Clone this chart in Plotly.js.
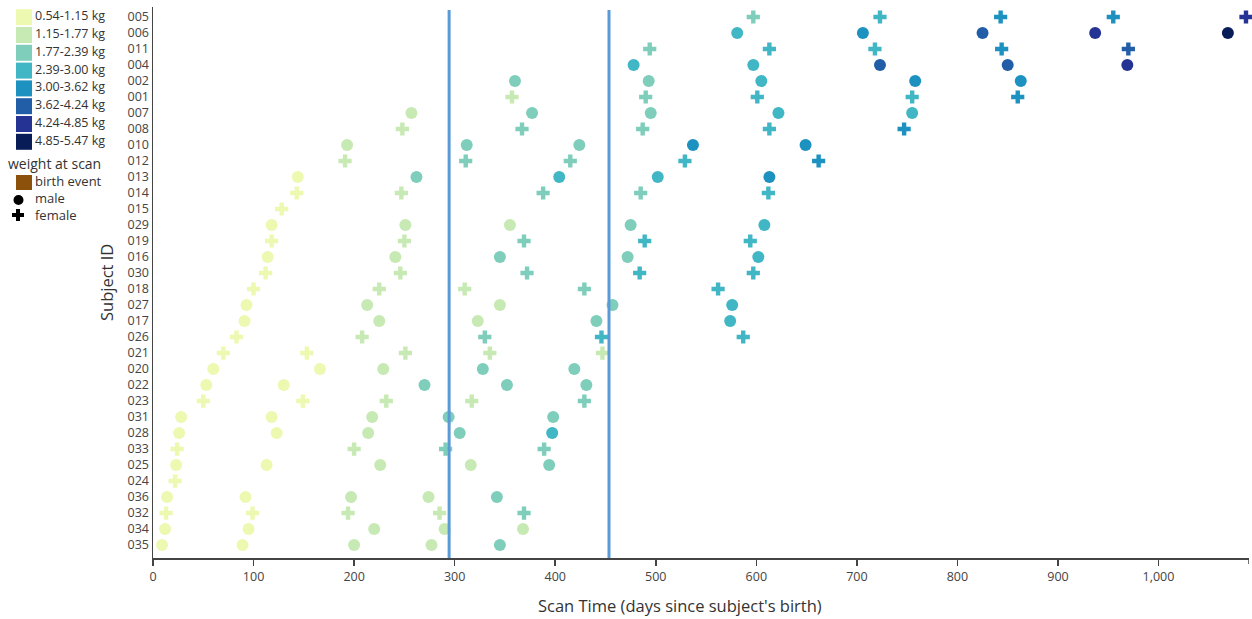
<!DOCTYPE html>
<html><head><meta charset="utf-8">
<script src="https://cdn.plot.ly/plotly-3.0.1.min.js"></script>
<style>html,body{margin:0;padding:0;background:#fff}#chart{width:1252px;height:619px}</style>
</head><body><div id="chart"></div>
<script>
// ---------- data ----------
const subjects = ['005','006','011','004','002','001','007','008','010','012','013','014','015','029','019','016','030','018','027','017','026','021','020','022','023','031','028','033','025','024','036','032','034','035'];
const sexes    = ['F','M','F','M','M','F','M','F','M','F','M','F','F','M','F','M','F','F','M','M','F','F','M','M','F','M','M','F','M','F','M','F','M','M'];
const scanDays = [
  [597, 723, 843, 955, 1087],
  [581, 706, 825, 937, 1069],
  [494, 613, 718, 844, 970],
  [478, 597, 723, 850, 969],
  [360, 493, 605, 758, 863],
  [357, 490, 601, 755, 860],
  [257, 377, 495, 622, 755],
  [248, 367, 487, 613, 747],
  [193, 312, 424, 537, 649],
  [191, 311, 415, 529, 662],
  [144, 262, 404, 502, 613],
  [143, 247, 388, 485, 612],
  [128],
  [118, 251, 355, 475, 608],
  [118, 250, 369, 489, 594],
  [114, 241, 345, 472, 602],
  [112, 246, 372, 484, 597],
  [100, 225, 310, 429, 562],
  [93, 213, 345, 457, 576],
  [91, 225, 323, 441, 574],
  [83, 208, 330, 446, 587],
  [70, 153, 251, 335, 447],
  [60, 166, 229, 328, 419],
  [53, 130, 270, 352, 431],
  [50, 149, 232, 317, 429],
  [28, 118, 218, 294, 398],
  [26, 123, 214, 305, 397],
  [24, 200, 291, 389],
  [23, 113, 226, 316, 394],
  [22],
  [14, 92, 197, 274, 342],
  [13, 99, 194, 285, 369],
  [12, 95, 220, 290, 368],
  [9, 89, 200, 277, 345]
];
// weight-at-scan bin index (0..7) for each scan
const weightBins = [
  [2,3,4,4,6],
  [3,4,5,6,7],
  [2,3,3,4,5],
  [3,3,5,5,6],
  [2,2,3,4,4],
  [1,2,3,3,4],
  [1,2,2,3,3],
  [1,2,2,3,4],
  [1,2,2,4,4],
  [1,2,2,3,4],
  [0,2,3,3,4],
  [0,1,2,2,3],
  [0],
  [0,1,1,2,3],
  [0,1,2,3,3],
  [0,1,2,2,3],
  [0,1,2,3,3],
  [0,1,1,2,3],
  [0,1,1,2,3],
  [0,1,1,2,3],
  [0,1,2,3,3],
  [0,0,1,1,1],
  [0,0,1,2,2],
  [0,0,2,2,2],
  [0,0,1,1,2],
  [0,0,1,2,2],
  [0,0,1,2,3],
  [0,1,2,2],
  [0,0,1,1,2],
  [0],
  [0,0,1,1,2],
  [0,0,1,1,2],
  [0,0,1,1,1],
  [0,0,1,1,2]
];
const binLabels = ['0.54-1.15 kg','1.15-1.77 kg','1.77-2.39 kg','2.39-3.00 kg','3.00-3.62 kg','3.62-4.24 kg','4.24-4.85 kg','4.85-5.47 kg'];
const binColors = ['#edf8b1','#c7e9b4','#7fcdbb','#41b6c4','#1d91c0','#225ea8','#253494','#081d58'];
const keyLabels = ['birth event','male','female'];
const refLineDays = [294.5, 453.5];
const xTickVals = [0,100,200,300,400,500,600,700,800,900,1000];
const xRange = [0, 1090];

// ---------- geometry ----------
const W = 1252, H = 619;
const M = {l:153, r:3, t:7, b:61};
const PW = W - M.l - M.r, PH = H - M.t - M.b;
const px = x => (x - M.l) / PW;
const py = y => (M.t + PH - y) / PH;
const FONT = '"Open Sans", "Segoe UI", Arial, sans-serif';
const TXT = '#333';

// ---------- traces ----------
function build(sex, symbol, size){
  const xs=[], ys=[], cs=[];
  subjects.forEach((s,i)=>{
    if (sexes[i]!==sex) return;
    scanDays[i].forEach((d,j)=>{ xs.push(d); ys.push(s); cs.push(binColors[weightBins[i][j]]); });
  });
  return {type:'scatter', mode:'markers', x:xs, y:ys, showlegend:false, cliponaxis:false,
    marker:{symbol:symbol, size:size, color:cs, line:{width:0}}, hoverinfo:'x+y'};
}
const traces = [build('M','circle',12), build('F','cross',11)];

// ---------- shapes & annotations ----------
const shapes = [];
const annotations = [];
refLineDays.forEach(d => shapes.push({type:'line', xref:'x', yref:'paper', x0:d, x1:d, y0:0, y1:py(10),
  line:{color:'#5b9bd5', width:3}, layer:'above'}));
// outer end tick of x axis
shapes.push({type:'line', xref:'x', yref:'paper', x0:xRange[1], x1:xRange[1], y0:0, y1:-6/PH, line:{color:'#444', width:1.5}});

// legend: weight bins
binLabels.forEach((lab,i)=>{
  const cy = 17.2 + 17.8*i;
  shapes.push({type:'rect', xref:'paper', yref:'paper', x0:px(16), x1:px(32), y0:py(cy-8), y1:py(cy+8),
    fillcolor:binColors[i], line:{width:0}});
  annotations.push({xref:'paper', yref:'paper', x:px(33), y:py(cy-1.5), text:lab, showarrow:false,
    xanchor:'left', yanchor:'middle', font:{family:FONT, size:12.5, color:TXT}});
});
annotations.push({xref:'paper', yref:'paper', x:px(6), y:py(163), text:'weight at scan', showarrow:false,
  xanchor:'left', yanchor:'middle', font:{family:FONT, size:14, color:TXT}});
// key: birth event / male / female (one multi-line text block)
const keyY = [182, 199, 216];
shapes.push({type:'rect', xref:'paper', yref:'paper', x0:px(16), x1:px(32), y0:py(keyY[0]+8), y1:py(keyY[0]-7),
  fillcolor:'#8c510a', line:{width:0}});
shapes.push({type:'circle', xref:'paper', yref:'paper', x0:px(13.5), x1:px(23.5), y0:py(keyY[1]+6), y1:py(keyY[1]-4),
  fillcolor:'#000', line:{width:0}});
shapes.push({type:'rect', xref:'paper', yref:'paper', x0:px(12), x1:px(24), y0:py(keyY[2]+1), y1:py(keyY[2]-3),
  fillcolor:'#000', line:{width:0}});
shapes.push({type:'rect', xref:'paper', yref:'paper', x0:px(16), x1:px(20), y0:py(keyY[2]+5), y1:py(keyY[2]-7),
  fillcolor:'#000', line:{width:0}});
annotations.push({xref:'paper', yref:'paper', x:px(33), y:py(keyY[1]-1), text:keyLabels.join('<br>'), showarrow:false,
  xanchor:'left', yanchor:'middle', align:'left', font:{family:FONT, size:13, color:TXT}});

// axis titles
annotations.push({xref:'paper', yref:'paper', x:px(680), y:py(605), text:"Scan Time (days since subject's birth)",
  showarrow:false, xanchor:'center', yanchor:'middle', font:{family:FONT, size:16.5, color:TXT}});
annotations.push({xref:'paper', yref:'paper', x:px(106), y:py(283), text:'Subject ID', textangle:-90,
  showarrow:false, xanchor:'center', yanchor:'middle', font:{family:FONT, size:16.5, color:TXT}});

const layout = {
  width:W, height:H, margin:M, paper_bgcolor:'#fff', plot_bgcolor:'#fff',
  showlegend:false, separators:'.,',
  font:{family:FONT, size:12, color:'#444'},
  xaxis:{range:xRange, showgrid:false, zeroline:false, showline:true, linecolor:'#444', linewidth:1.5,
    ticks:'outside', ticklen:6, tickwidth:1.5, tickcolor:'#444', tickvals:xTickVals, tickformat:',d',
    tickfont:{family:FONT, size:12.5, color:'#444'}, fixedrange:true},
  yaxis:{type:'category', categoryorder:'array', categoryarray:subjects, range:[33.81,-0.625],
    showgrid:false, zeroline:false, showline:true, linecolor:'#444', linewidth:1.5, ticks:'',
    tickfont:{family:FONT, size:12.5, color:'#444'}, fixedrange:true},
  shapes:shapes, annotations:annotations
};
Plotly.newPlot('chart', traces, layout, {displayModeBar:false, staticPlot:true});
</script></body></html>
